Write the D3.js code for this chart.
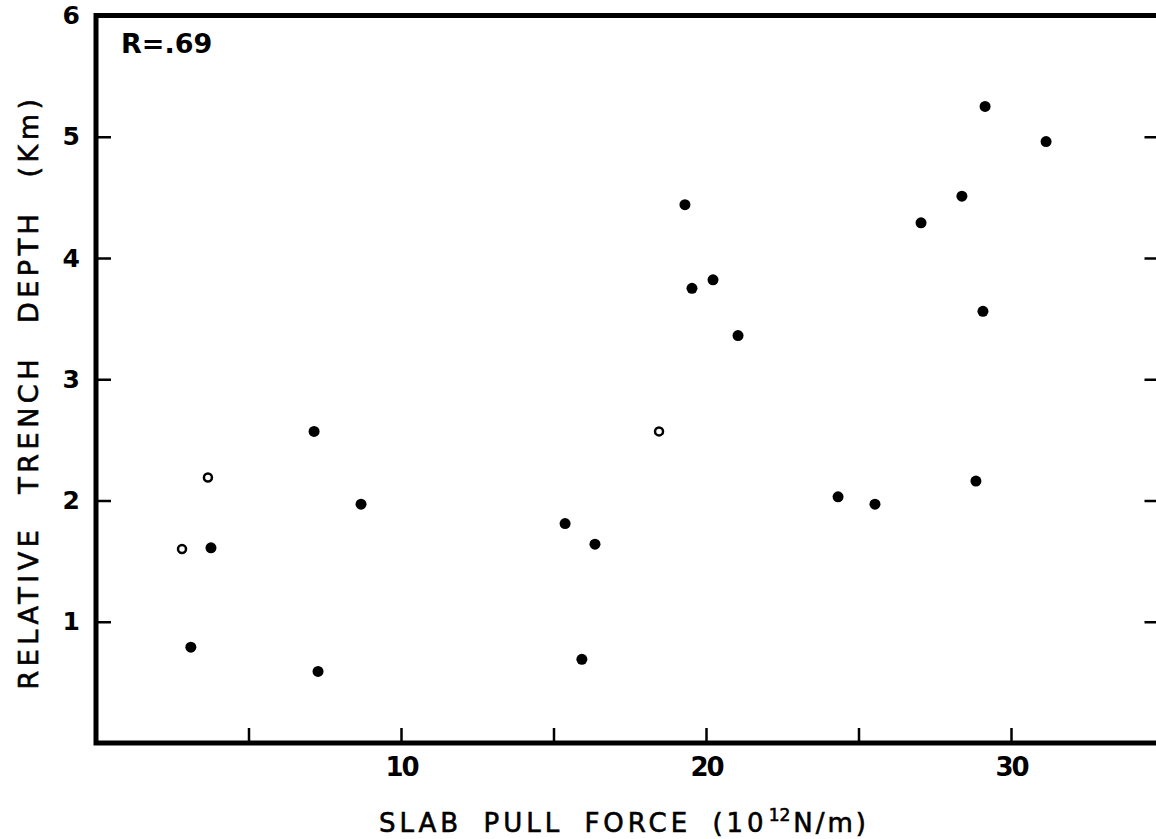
<!doctype html>
<html>
<head>
<meta charset="utf-8">
<script src="https://cdn.jsdelivr.net/npm/d3@7"></script>
<style>
  html, body { margin: 0; padding: 0; background: #fff; }
  svg { display: block; }
</style>
</head>
<body>
<script>
// Slab pull force (10^12 N/m) vs relative trench depth (km)
const filledX = [3.11, 3.77, 7.28, 7.15, 8.69, 15.38, 16.36, 15.93, 19.31, 19.54,
                 20.23, 21.05, 24.33, 25.54, 27.05, 28.39, 29.15, 29.08, 28.85, 31.15];
const filledY = [0.79, 1.61, 0.59, 2.57, 1.97, 1.81, 1.64, 0.69, 4.44, 3.75,
                 3.82, 3.36, 2.03, 1.97, 4.29, 4.51, 5.25, 3.56, 2.16, 4.96];
const openX = [2.82, 3.67, 18.46];
const openY = [1.60, 2.19, 2.57];

const xTicks = [5, 10, 15, 20, 25, 30];
const xTickLabels = { 10: "10", 20: "20", 30: "30" };
const yTicks = [1, 2, 3, 4, 5, 6];

const W = 1156, H = 839;
const FONT = '"DejaVu Sans", "Liberation Sans", sans-serif';
const LINE_W = 5;

const x = d3.scaleLinear().domain([0, 35]).range([96, 1163.5]);
const y = d3.scaleLinear().domain([0, 6]).range([743, 15.5]);

const svg = d3.select("body").append("svg")
  .attr("width", W)
  .attr("height", H)
  .style("font-family", FONT);

svg.append("rect").attr("width", W).attr("height", H).attr("fill", "#fff");

// Frame
svg.append("rect")
  .attr("x", x(0))
  .attr("y", y(6))
  .attr("width", x(35) - x(0))
  .attr("height", y(0) - y(6))
  .attr("fill", "none")
  .attr("stroke", "#000")
  .attr("stroke-width", LINE_W);

// X axis (ticks pointing inward)
const xG = svg.append("g")
  .attr("transform", `translate(0,${y(0)})`)
  .call(d3.axisBottom(x)
    .tickValues(xTicks)
    .tickSizeInner(-15)
    .tickSizeOuter(0)
    .tickPadding(15)
    .tickFormat((d) => xTickLabels[d] ?? ""));
xG.select(".domain").remove();
xG.selectAll("line").attr("stroke", "#000").attr("stroke-width", 2.5);
xG.selectAll("text")
  .attr("fill", "#000")
  .attr("font-size", 26)
  .attr("font-weight", "bold")
  .attr("font-family", FONT)
  .attr("letter-spacing", -2);

// Y axis left
const yG = svg.append("g")
  .attr("transform", `translate(${x(0)},0)`)
  .call(d3.axisLeft(y)
    .tickValues(yTicks)
    .tickSizeInner(-15)
    .tickSizeOuter(0)
    .tickPadding(16)
    .tickFormat(d3.format("d")));
yG.select(".domain").remove();
yG.selectAll("line").attr("stroke", "#000").attr("stroke-width", 2.5);
yG.selectAll(".tick").filter((d) => d === 6).select("line").remove();
yG.selectAll("text")
  .attr("fill", "#000")
  .attr("font-size", 25)
  .attr("font-weight", "bold")
  .attr("font-family", FONT);

// Y axis right (ticks only)
const yR = svg.append("g")
  .attr("transform", `translate(${x(35)},0)`)
  .call(d3.axisRight(y)
    .tickValues(yTicks.filter((d) => d < 6))
    .tickSizeInner(-19)
    .tickSizeOuter(0)
    .tickFormat(""));
yR.select(".domain").remove();
yR.selectAll("line").attr("stroke", "#000").attr("stroke-width", 2.5);

// Points
svg.append("g")
  .selectAll("circle")
  .data(filledX.map((v, i) => [v, filledY[i]]))
  .join("circle")
  .attr("cx", (d) => x(d[0]))
  .attr("cy", (d) => y(d[1]))
  .attr("r", 5.5)
  .attr("fill", "#000");

svg.append("g")
  .selectAll("circle")
  .data(openX.map((v, i) => [v, openY[i]]))
  .join("circle")
  .attr("cx", (d) => x(d[0]))
  .attr("cy", (d) => y(d[1]))
  .attr("r", 4)
  .attr("fill", "#fff")
  .attr("stroke", "#000")
  .attr("stroke-width", 2.5);

// Correlation label
svg.append("text")
  .attr("x", 121)
  .attr("y", 53)
  .attr("font-size", 27)
  .attr("font-weight", "bold")
  .attr("fill", "#000")
  .text("R=.69");

// X axis title: spread words so it spans roughly 379..865 like the original
const xt = svg.append("text")
  .attr("x", 379)
  .attr("y", 832)
  .attr("font-size", 26)
  .attr("letter-spacing", 4)
  .attr("fill", "#000")
  .attr("stroke", "#000")
  .attr("stroke-width", 0.6);
const xtMain = xt.append("tspan").text("SLAB PULL FORCE (10");
xt.append("tspan").attr("font-size", 17).attr("dy", -11).attr("dx", 1)
  .attr("letter-spacing", 0).text("12");
xt.append("tspan").attr("dy", 11).attr("dx", 3).attr("letter-spacing", 3).text("N/m)");
{
  const w = xt.node().getComputedTextLength();
  xtMain.attr("word-spacing", Math.max(0, (486 - w) / 3));
}

// Y axis title
const yt = svg.append("text")
  .attr("transform", `translate(38,392) rotate(-90)`)
  .attr("text-anchor", "middle")
  .attr("font-size", 27)
  .attr("letter-spacing", 4.5)
  .attr("fill", "#000")
  .attr("stroke", "#000")
  .attr("stroke-width", 0.6)
  .text("RELATIVE TRENCH DEPTH (Km)");
{
  const w = yt.node().getComputedTextLength();
  yt.attr("word-spacing", Math.max(0, (595 - w) / 3));
}
</script>
</body>
</html>
